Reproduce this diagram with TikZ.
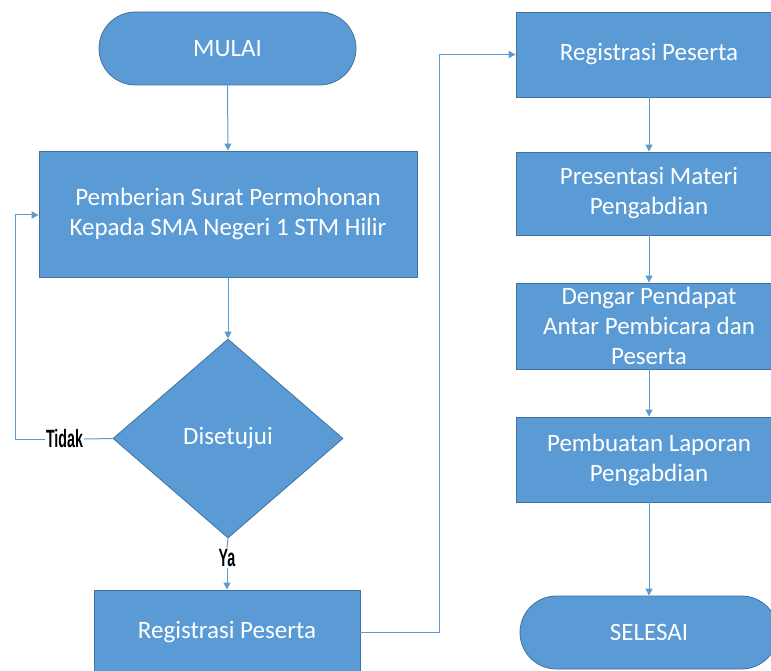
\documentclass[tikz,border=0pt]{standalone}
\usepackage{fontspec}
\setmainfont{Carlito}
\newfontfamily\labelfont{Liberation Sans}
\usetikzlibrary{shapes.geometric,shapes.misc,arrows.meta}
\definecolor{boxfill}{HTML}{5B9BD5}
\definecolor{boxline}{HTML}{41719C}
\definecolor{conn}{HTML}{5B9BD5}
\tikzset{
  x=1pt, y=-1pt,
  base/.style={fill=boxfill, draw=boxline, line width=0.8pt, text=white, align=center,
    font=\fontsize{25}{30}\selectfont, inner sep=0pt},
  procbox/.style={base, rectangle},
  pill/.style={base, rounded rectangle},
  decide/.style={base, diamond},
  conline/.style={draw=conn, line width=1pt},
  conarrow/.style={conline, -{Triangle[length=7pt,width=7pt]}},
  lbl/.style={font=\labelfont\bfseries\fontsize{25}{25}\selectfont, text=black, inner sep=1pt}
}
\begin{document}
\begin{tikzpicture}
\useasboundingbox (0,0) rectangle (771,671);
\node[pill, minimum width=257pt, minimum height=73pt] (mulai) at (227.5,48.5) {MULAI};
\node[procbox, minimum width=378pt, minimum height=126pt] (surat) at (228,214) {Pemberian Surat Permohonan\\Kepada SMA Negeri 1 STM Hilir};
\node[decide, minimum width=230pt, minimum height=199pt, aspect=1.156] (setuju) at (228,438.5) {Disetujui};
\node[procbox, minimum width=266pt, minimum height=84pt] (regA) at (227,632) {Registrasi Peserta};
\node[procbox, minimum width=266pt, minimum height=85pt] (regB) at (649,54.5) {Registrasi Peserta};
\node[procbox, minimum width=266pt, minimum height=83pt] (pres) at (649,193.5) {Presentasi Materi\\Pengabdian};
\node[procbox, minimum width=266pt, minimum height=86pt] (dengar) at (649,326) {Dengar Pendapat\\Antar Pembicara dan\\Peserta};
\node[procbox, minimum width=266pt, minimum height=85pt] (lapor) at (649,459.5) {Pembuatan Laporan\\Pengabdian};
\node[pill, minimum width=258pt, minimum height=73pt] (selesai) at (649,632.5) {SELESAI};

\node[lbl] (tidak) at (64.5,439) {\scalebox{0.57}[1]{Tidak}};
\node[lbl] (ya) at (227,558) {\scalebox{0.57}[1]{Ya}};
\coordinate (loopL) at (15,439);
\coordinate (loopT) at (15,215);
\coordinate (jumpB) at (439,632);
\coordinate (jumpT) at (439,54.5);

\draw[conarrow] (mulai.south) -- (surat.north);
\draw[conarrow] (surat.south) -- (setuju.north);
\draw[conline] (setuju.west) -- (tidak.east);
\draw[conarrow] (tidak.west) -- (loopL) -- (loopT) -- (surat.west |- loopT);
\draw[conline] (setuju.south) -- (ya.north);
\draw[conarrow] (ya.south) -- (regA.north);
\draw[conarrow] (regA.east) -- (jumpB) -- (jumpT) -- (regB.west);
\draw[conarrow] (regB.south) -- (pres.north);
\draw[conarrow] (pres.south) -- (dengar.north);
\draw[conarrow] (dengar.south) -- (lapor.north);
\draw[conarrow] (lapor.south) -- (selesai.north);
\end{tikzpicture}
\end{document}
